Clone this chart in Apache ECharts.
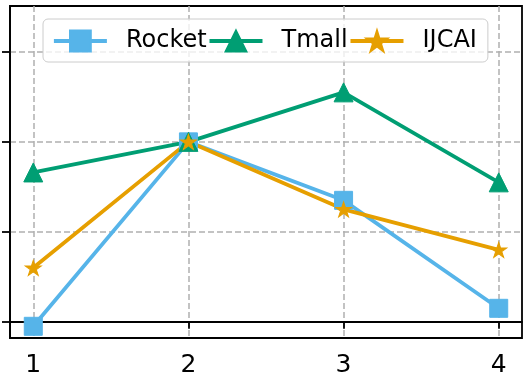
<!DOCTYPE html>
<html>
<head>
<meta charset="utf-8">
<script src="https://cdn.jsdelivr.net/npm/echarts@6/dist/echarts.min.js"></script>
<style>
  html, body { margin: 0; padding: 0; background: #fff; }
  #chart { width: 532px; height: 383px; }
</style>
</head>
<body>
<div id="chart"></div>
<script>
const xValues = [1, 2, 3, 4];
const xTicks = [1, 2, 3, 4];
const yTicks = [0, 1, 2, 3];
const seriesNames = ['Rocket', 'Tmall', 'IJCAI'];
const rocket = [-0.05, 2.0, 1.35, 0.15];
const tmall = [1.66, 2.0, 2.55, 1.55];
const ijcai = [0.60, 2.0, 1.25, 0.80];

const colors = ['#56B4E9', '#009E73', '#E69F00'];
const font = 'DejaVu Sans';
const starPath = 'path://M100 0 L122.45 69.1 L195.11 69.1 L136.33 111.8 L158.78 180.9 L100 138.2 L41.22 180.9 L63.67 111.8 L4.89 69.1 L77.55 69.1 Z';

const chart = echarts.init(document.getElementById('chart'));

// 每条线的配置
const makeSeries = (name, values, color, symbol, size) => ({
  name,
  type: 'line',
  data: xValues.map((x, i) => [x, values[i]]),
  symbol,
  symbolSize: size,
  showSymbol: true,
  lineStyle: { color, width: 3.8 },
  itemStyle: { color, borderColor: color, borderWidth: 1 },
  emphasis: { disabled: true }
});

chart.setOption({
  animation: false,
  grid: {
    left: 10, right: 10, top: 6, bottom: 45,
    show: true, borderColor: '#000', borderWidth: 1.8, backgroundColor: 'transparent'
  },
  legend: {
    data: seriesNames,
    left: 43, top: 19,
    orient: 'horizontal',
    itemWidth: 53, itemHeight: 26, itemGap: 1,
    padding: [10, 11, 9, 9],
    backgroundColor: 'rgba(255,255,255,0.8)',
    borderColor: '#cccccc', borderWidth: 1, borderRadius: 5,
    lineStyle: { width: 3.8 },
    textStyle: { fontFamily: font, fontSize: 24, color: '#000', padding: [0, 0, 0, 14] }
  },
  xAxis: {
    type: 'value',
    min: 0.85, max: 4.15,
    axisLine: { show: true, lineStyle: { color: '#000', width: 1.8 } },
    axisTick: { show: true, length: 7, customValues: xTicks, lineStyle: { color: '#000', width: 1.8 } },
    axisLabel: { customValues: xTicks, fontFamily: font, fontSize: 25, color: '#000', margin: 15 },
    splitLine: { show: true, lineStyle: { color: '#b0b0b0', width: 1.5, type: [6, 3] } }
  },
  yAxis: {
    type: 'value',
    min: -0.18, max: 3.51,
    axisLine: { show: true, lineStyle: { color: '#000', width: 1.8 } },
    axisTick: { show: true, length: 8, customValues: yTicks, lineStyle: { color: '#000', width: 1.8 } },
    axisLabel: { show: false, customValues: yTicks },
    splitLine: { show: true, lineStyle: { color: '#b0b0b0', width: 1.5, type: [6, 3] } }
  },
  series: [
    makeSeries('Rocket', rocket, colors[0], 'rect', 18),
    makeSeries('Tmall', tmall, colors[1], 'triangle', 19),
    makeSeries('IJCAI', ijcai, colors[2], starPath, [16, 15])
  ]
});
</script>
</body>
</html>
